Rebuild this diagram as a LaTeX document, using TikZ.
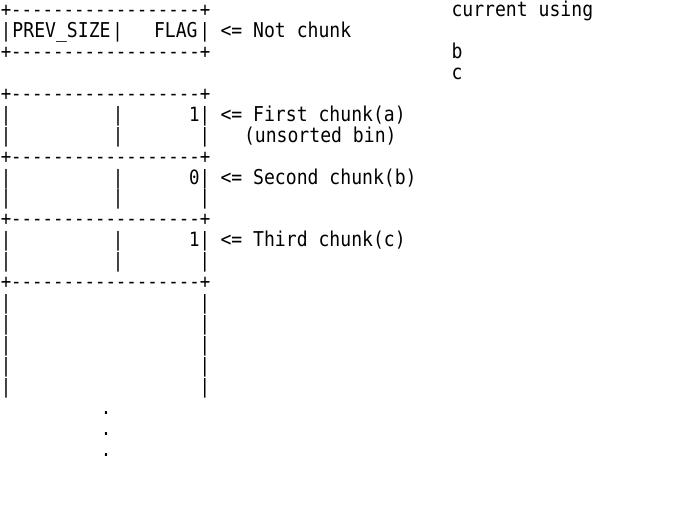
\documentclass[tikz,border=0pt]{standalone}
\usepackage{fontspec}
\newfontfamily\boxfont[Ligatures=TeXOff]{DejaVu Sans Mono}
\newcommand\asciirow[1]{16.5+20.94*#1}
\newcommand\tallA[1]{\scalebox{1}[1.13]{#1}}
\begin{document}
\begin{tikzpicture}[x=1pt,y=-1pt,
  bx/.style={anchor=base west,inner sep=0pt,outer sep=0pt,font=\boxfont\fontsize{17.4}{20}\selectfont},
  lb/.style={anchor=base west,inner sep=0pt,outer sep=0pt,font=\boxfont\fontsize{18.1}{20}\selectfont}]
\useasboundingbox (0,0) rectangle (674,506);
% borders
\node[bx] (b0)  at (0.76,{\asciirow{0}})  {\tallA{+------------------+}};
\node[bx] (b2)  at (0.76,{\asciirow{2}})  {\tallA{+------------------+}};
\node[bx] (b4)  at (0.76,{\asciirow{4}})  {\tallA{+------------------+}};
\node[bx] (b7)  at (0.76,{\asciirow{7}})  {\tallA{+------------------+}};
\node[bx] (b10) at (0.76,{\asciirow{10}}) {\tallA{+------------------+}};
\node[bx] (b13) at (0.76,{\asciirow{13}}) {\tallA{+------------------+}};
% right column
\node[lb] (cu) at (451.5,{\asciirow{0}}) {\tallA{current using}};
\node[lb] (cb) at (451.5,{\asciirow{2}}) {\tallA{b}};
\node[lb] (cc) at (451.5,{\asciirow{3}}) {\tallA{c}};
% row 1
\node[bx] (r1a) at (0.76,{\asciirow{1}}) {\tallA{|}};
\node[lb] (r1s) at (12.5,{\asciirow{1}}) {\tallA{PREV\_SIZE}};
\node[bx] (r1b) at (112.3,{\asciirow{1}}) {\tallA{|}};
\node[lb] (r1f) at (154,{\asciirow{1}}) {\tallA{FLAG}};
\node[bx] (r1c) at (199.7,{\asciirow{1}}) {\tallA{|}};
\node[lb] (r1l) at (220.5,{\asciirow{1}}) {\tallA{<= Not chunk}};
% row 5
\node[bx] (r5a) at (0.76,{\asciirow{5}}) {\tallA{|}};
\node[bx] (r5b) at (112.8,{\asciirow{5}}) {\tallA{|}};
\node[bx] (r5c) at (189.2,{\asciirow{5}}) {\tallA{1|}};
\node[lb] (r5l) at (220.5,{\asciirow{5}}) {\tallA{<= First chunk(a)}};
% row 6
\node[bx] (r6a) at (0.76,{\asciirow{6}}) {\tallA{|}};
\node[bx] (r6b) at (112.8,{\asciirow{6}}) {\tallA{|}};
\node[bx] (r6c) at (199.7,{\asciirow{6}}) {\tallA{|}};
\node[lb] (r6l) at (244,{\asciirow{6}}) {\tallA{(unsorted bin)}};
% row 8
\node[bx] (r8a) at (0.76,{\asciirow{8}}) {\tallA{|}};
\node[bx] (r8b) at (112.8,{\asciirow{8}}) {\tallA{|}};
\node[bx] (r8c) at (189.2,{\asciirow{8}}) {\tallA{0|}};
\node[lb] (r8l) at (220.5,{\asciirow{8}}) {\tallA{<= Second chunk(b)}};
% row 9
\node[bx] (r9a) at (0.76,{\asciirow{9}}) {\tallA{|}};
\node[bx] (r9b) at (112.8,{\asciirow{9}}) {\tallA{|}};
\node[bx] (r9c) at (199.7,{\asciirow{9}}) {\tallA{|}};
% row 11
\node[bx] (r11a) at (0.76,{\asciirow{11}}) {\tallA{|}};
\node[bx] (r11b) at (112.8,{\asciirow{11}}) {\tallA{|}};
\node[bx] (r11c) at (189.2,{\asciirow{11}}) {\tallA{1|}};
\node[lb] (r11l) at (220.5,{\asciirow{11}}) {\tallA{<= Third chunk(c)}};
% row 12
\node[bx] (r12a) at (0.76,{\asciirow{12}}) {\tallA{|}};
\node[bx] (r12b) at (112.8,{\asciirow{12}}) {\tallA{|}};
\node[bx] (r12c) at (199.7,{\asciirow{12}}) {\tallA{|}};
% rows 14-18
\foreach \r in {14,...,18}{
  \node[bx] (l\r) at (0.76,{\asciirow{\r}}) {\tallA{|}};
  \node[bx] (e\r) at (199.7,{\asciirow{\r}}) {\tallA{|}};
}
% dots
\node[bx] (d19) at (100.8,{\asciirow{19}}) {\tallA{.}};
\node[bx] (d20) at (100.8,{\asciirow{20}}) {\tallA{.}};
\node[bx] (d21) at (100.8,{\asciirow{21}}) {\tallA{.}};
\end{tikzpicture}
\end{document}
